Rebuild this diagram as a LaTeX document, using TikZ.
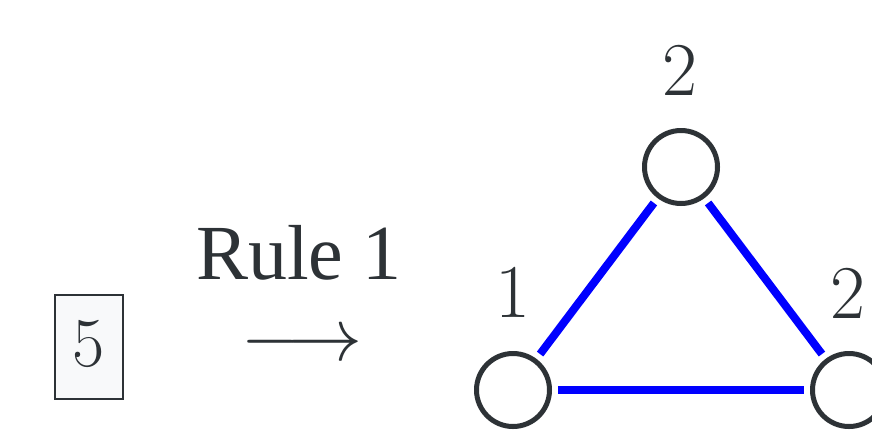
\RequirePackage{fix-cm}
\documentclass[tikz,border=0pt]{standalone}
\usepackage{fontspec}
\newfontfamily\timesfont{Liberation Serif}
\definecolor{ink}{HTML}{2D3236}
\definecolor{boxfill}{HTML}{F8F9FA}
\definecolor{edgeblue}{HTML}{0000FF}
\begin{document}
\begin{tikzpicture}[x=1pt,y=-1pt,
  lab/.style={text=ink,font=\fontsize{76}{76}\selectfont,inner sep=0pt,anchor=base},
  vert/.style={circle,draw=ink,line width=5pt,minimum size=73pt,inner sep=0pt,fill=white},
  edge/.style={edgeblue,line width=8pt,shorten <=6pt,shorten >=6pt},
  numbox/.style={rectangle,draw=ink,line width=2.5pt,fill=boxfill,minimum width=68pt,minimum height=104pt,inner sep=0pt,text=ink,font=\fontsize{70}{70}\selectfont}
]
\useasboundingbox (0,0) rectangle (872,440);
\fill[white] (0,0) rectangle (872,440);
% box with 5
\node[numbox,text height=46pt,text depth=8pt] (five) at (89,347) {5};
% rule label and arrow
\node[lab,font=\timesfont\fontsize{78}{78}\selectfont,text depth=0pt] (rule) at (299,279) {Rule 1};
\node[lab,font=\fontsize{75}{75}\selectfont,text height=30pt,text depth=0pt] (arrow) at (302,360) {$\longrightarrow$};
% vertices
\node[vert] (a) at (513,390) {};
\node[vert] (b) at (681,167) {};
\node[vert] (c) at (849,390) {};
% edges
\draw[edge] (a) -- (b);
\draw[edge] (b) -- (c);
\draw[edge] (a) -- (c);
% labels
\node[lab] (lb) at (680,95) {2};
\node[lab] (la) at (513,317) {1};
\node[lab] (lc) at (848,318) {2};
\end{tikzpicture}
\end{document}
